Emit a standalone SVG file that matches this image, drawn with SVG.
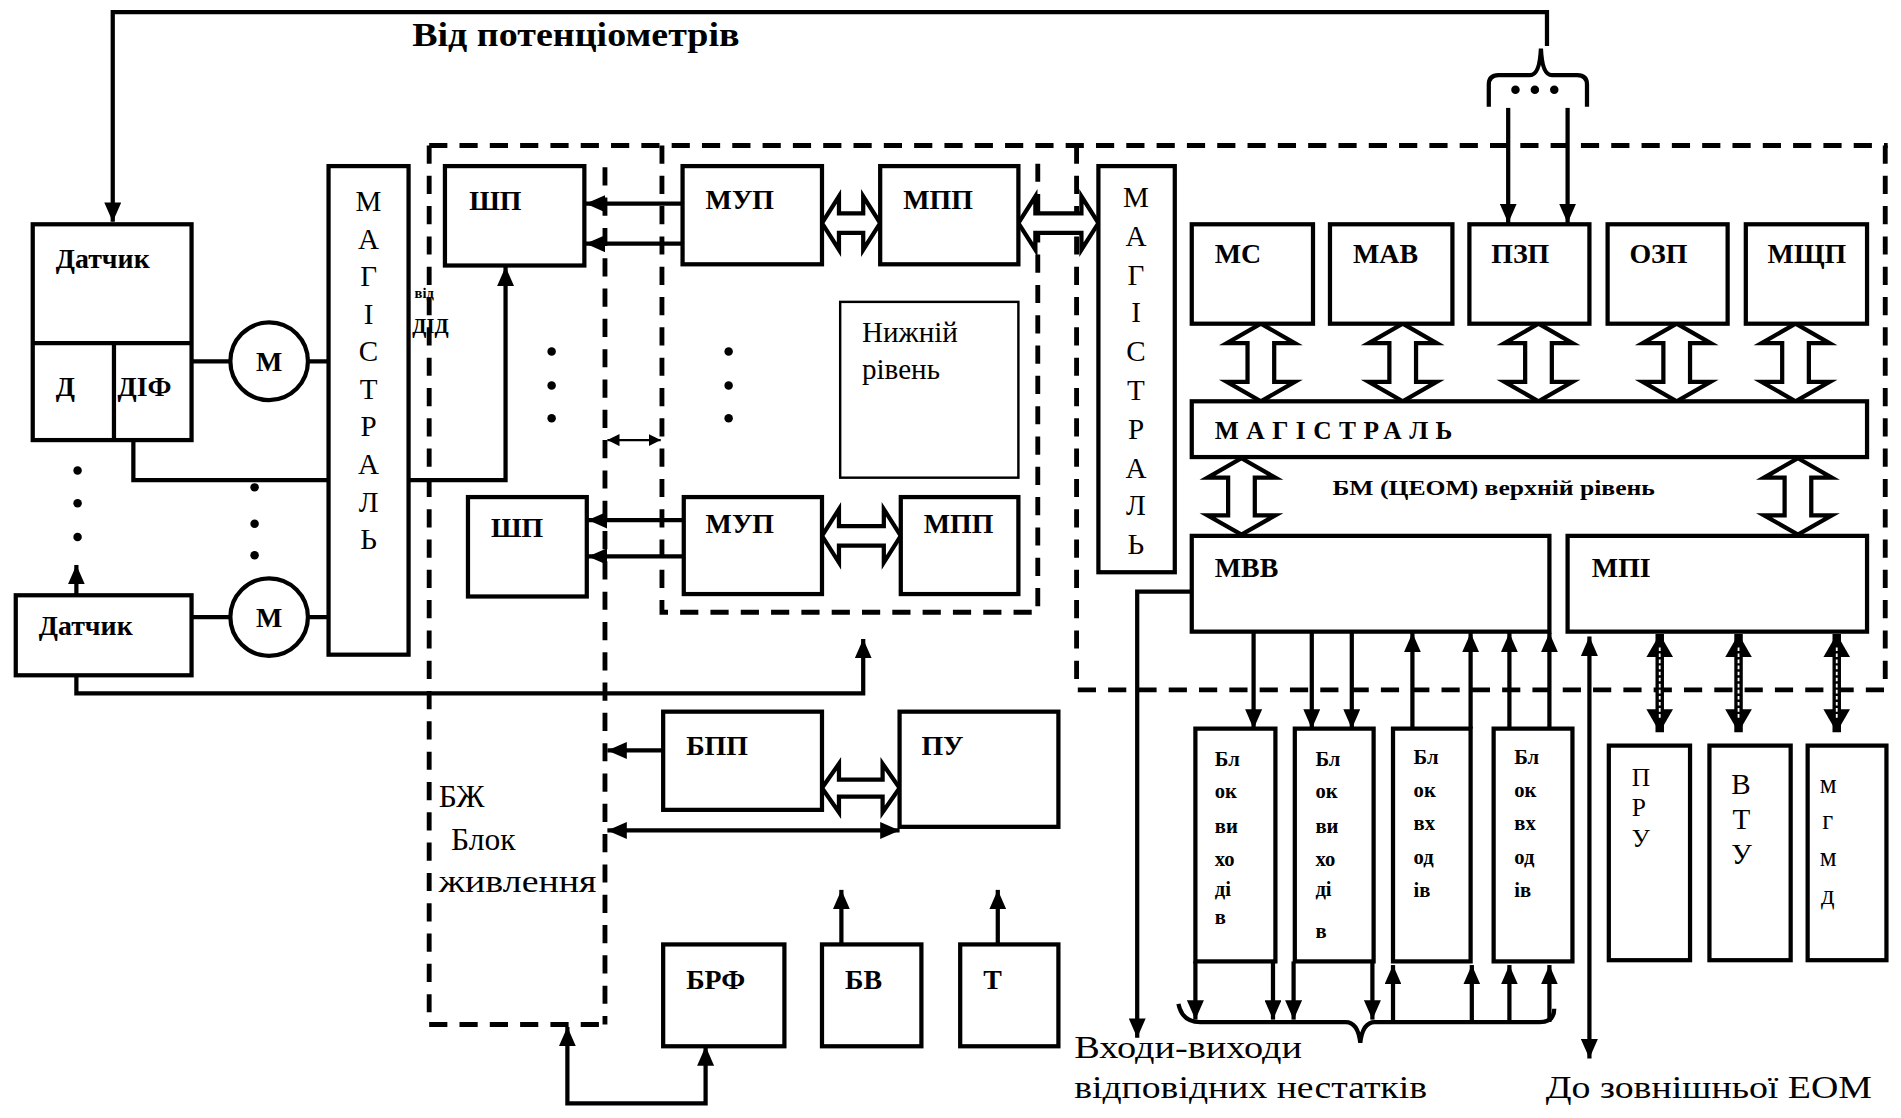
<svg xmlns="http://www.w3.org/2000/svg" width="1901" height="1118" viewBox="0 0 1901 1118">
<style>
.bx{fill:#fff;stroke:#000;stroke-width:3.5}
.thin{fill:#fff;stroke:#000;stroke-width:2}
.ln{fill:none;stroke:#000;stroke-width:3.5}
.ds{fill:none;stroke:#000;stroke-width:4;stroke-dasharray:15 10}
.ha{fill:#fff;stroke:#000;stroke-width:3.5;stroke-linejoin:miter}
.dw{fill:none;stroke:#000;stroke-width:7}
.dwi{fill:none;stroke:#fff;stroke-width:1.5;stroke-dasharray:3 2}
.t{font-family:"Liberation Serif","Times New Roman",serif;fill:#000}
.b{font-weight:bold}
.lab{font-size:23px;font-weight:bold}
.vl{font-size:24px;text-anchor:middle}
.blk{font-size:17px;font-weight:bold}
.big{font-size:26px}
</style>
<defs>
<marker id="ah" viewBox="0 0 16 14" refX="16" refY="7" markerWidth="16" markerHeight="14" markerUnits="userSpaceOnUse" orient="auto-start-reverse"><path d="M0,0 L16,7 L0,14 z" fill="#000"/></marker>
<marker id="as" viewBox="0 0 10 10" refX="10" refY="5" markerWidth="10" markerHeight="10" markerUnits="userSpaceOnUse" orient="auto-start-reverse"><path d="M0,0 L10,5 L0,10 z" fill="#000"/></marker>
<marker id="aw" viewBox="0 0 19 22" refX="19" refY="11" markerWidth="19" markerHeight="22" markerUnits="userSpaceOnUse" orient="auto-start-reverse"><path d="M0,0 L19,11 L0,22 z" fill="#000"/></marker>
</defs>
<rect width="1901" height="1118" fill="#fff"/>
<g transform="scale(1.21237)">
<g id="regions">
<path class="ds" d="M354,120 L1557,120"/>
<path class="ds" d="M354,120 L354,845 L499,845"/>
<path class="ds" d="M499,138 L499,845"/>
<path class="ds" d="M546,120 L546,505 L856,505 L856,130"/>
<path class="ds" d="M888,120 L888,569 L1555,569 L1555,120"/>
</g>
<g id="connectors">
<path class="ln" d="M1276,38 L1276,10 L93,10 L93,183" marker-end="url(#ah)"/>
<path class="ln" d="M1228,88 L1228,70 Q1228,62 1236,62 L1262,62 Q1270,62 1271,40 Q1272,62 1280,62 L1301,62 Q1309,62 1309,70 L1309,88"/>
<circle cx="1250" cy="74" r="3.5"/><circle cx="1266" cy="74" r="3.5"/><circle cx="1282" cy="74" r="3.5"/>
<path class="ln" d="M1244,89 L1244,184" marker-end="url(#ah)"/>
<path class="ln" d="M1293,89 L1293,184" marker-end="url(#ah)"/>
<path class="ln" d="M158,298 L190,298 M254,298 L271,298"/>
<path class="ln" d="M158,509 L190,509 M254,509 L271,509"/>
<path class="ln" d="M110,363 L110,396 L417,396 L417,220" marker-end="url(#ah)"/>
<path class="ln" d="M63,557 L63,572 L712,572 L712,527" marker-end="url(#ah)"/>
<path class="ln" d="M63,491 L63,466" marker-end="url(#ah)"/>
<path class="ln" d="M563,168 L483,168" marker-end="url(#ah)"/>
<path class="ln" d="M563,201 L483,201" marker-end="url(#ah)"/>
<path class="ln" d="M564,429 L485,429" marker-end="url(#ah)"/>
<path class="ln" d="M564,459 L485,459" marker-end="url(#ah)"/>
<path fill="none" stroke="#000" stroke-width="2" d="M501,363 L545,363" marker-start="url(#as)" marker-end="url(#as)"/>
<path class="ln" d="M547,619 L501,619" marker-end="url(#ah)"/>
<path class="ln" d="M501,685 L742,685" marker-start="url(#ah)" marker-end="url(#ah)"/>
<path class="ln" d="M694,779 L694,734" marker-end="url(#ah)"/>
<path class="ln" d="M823,779 L823,734" marker-end="url(#ah)"/>
<path class="ln" d="M582,863 L582,910 L468,910 L468,847" marker-start="url(#ah)" marker-end="url(#ah)"/>
<path class="ln" d="M983,488 L938,488 L938,856" marker-end="url(#ah)"/>
<path class="ln" d="M1034,521 L1034,601" marker-end="url(#ah)"/>
<path class="ln" d="M1082,521 L1082,601" marker-end="url(#ah)"/>
<path class="ln" d="M1115,521 L1115,601" marker-end="url(#ah)"/>
<path class="ln" d="M1165,601 L1165,522" marker-end="url(#ah)"/>
<path class="ln" d="M1213,601 L1213,522" marker-end="url(#ah)"/>
<path class="ln" d="M1245,601 L1245,522" marker-end="url(#ah)"/>
<path class="ln" d="M1278,601 L1278,522" marker-end="url(#ah)"/>
<path class="ln" d="M986,793 L986,841" marker-end="url(#ah)"/>
<path class="ln" d="M1050,793 L1050,841" marker-end="url(#ah)"/>
<path class="ln" d="M1067,793 L1067,841" marker-end="url(#ah)"/>
<path class="ln" d="M1132,793 L1132,841" marker-end="url(#ah)"/>
<path class="ln" d="M1149,843 L1149,796" marker-end="url(#ah)"/>
<path class="ln" d="M1214,843 L1214,796" marker-end="url(#ah)"/>
<path class="ln" d="M1245,843 L1245,796" marker-end="url(#ah)"/>
<path class="ln" d="M1278,843 L1278,796" marker-end="url(#ah)"/>
<path class="ln" d="M972,828 Q975,843 990,843 L1110,843 Q1120,843 1122,860 Q1124,843 1134,843 L1270,843 Q1282,843 1282,832"/>
<path class="ln" d="M1311,525 L1311,873" marker-start="url(#ah)" marker-end="url(#ah)"/>
<path class="dw" d="M1369,523 L1369,604" marker-start="url(#aw)" marker-end="url(#aw)"/>
<path class="dw" d="M1434,523 L1434,604" marker-start="url(#aw)" marker-end="url(#aw)"/>
<path class="dw" d="M1515,523 L1515,604" marker-start="url(#aw)" marker-end="url(#aw)"/>
<path class="dwi" d="M1369,534 L1369,593 M1434,534 L1434,593 M1515,534 L1515,593"/>
<polygon class="ha" points="678,184 692,162 692,176 712,176 712,162 726,184 712,206 712,192 692,192 692,206"/>
<polygon class="ha" points="840,184 854,162 854,176 892,176 892,162 906,184 892,206 892,192 854,192 854,206"/>
<polygon class="ha" points="678,442 692,420 692,434 729,434 729,420 743,442 729,464 729,450 692,450 692,464"/>
<polygon class="ha" points="678,650 692,630 692,643 728,643 728,630 742,650 728,670 728,657 692,657 692,670"/>
<polygon class="ha" points="1040,267 1068,283 1051,283 1051,315 1068,315 1040,331 1012,315 1029,315 1029,283 1012,283"/>
<polygon class="ha" points="1157,267 1185,283 1168,283 1168,315 1185,315 1157,331 1129,315 1146,315 1146,283 1129,283"/>
<polygon class="ha" points="1269,267 1297,283 1280,283 1280,315 1297,315 1269,331 1241,315 1258,315 1258,283 1241,283"/>
<polygon class="ha" points="1383,267 1411,283 1394,283 1394,315 1411,315 1383,331 1355,315 1372,315 1372,283 1355,283"/>
<polygon class="ha" points="1481,267 1509,283 1492,283 1492,315 1509,315 1481,331 1453,315 1470,315 1470,283 1453,283"/>
<polygon class="ha" points="1024,378 1052,394 1035,394 1035,425 1052,425 1024,441 996,425 1013,425 1013,394 996,394"/>
<polygon class="ha" points="1483,378 1511,394 1494,394 1494,425 1511,425 1483,441 1455,425 1472,425 1472,394 1455,394"/>
</g>
<g id="dots">
<circle cx="455" cy="290" r="3.5"/><circle cx="455" cy="318" r="3.5"/><circle cx="455" cy="345" r="3.5"/>
<circle cx="601" cy="290" r="3.5"/><circle cx="601" cy="318" r="3.5"/><circle cx="601" cy="345" r="3.5"/>
<circle cx="64" cy="388" r="3.5"/><circle cx="64" cy="415" r="3.5"/><circle cx="64" cy="443" r="3.5"/>
<circle cx="210" cy="402" r="3.5"/><circle cx="210" cy="432" r="3.5"/><circle cx="210" cy="458" r="3.5"/>
</g>
<g id="datchik1">
<rect class="bx" x="27" y="185" width="131" height="178"/>
<path class="ln" d="M27,283 L158,283 M94,283 L94,363"/>
<text class="t lab" x="46" y="221" font-size="22">Датчик</text>
<text class="t lab" x="46" y="327" font-size="21">Д</text>
<text class="t lab" x="97" y="327" font-size="21">ДІФ</text>
</g>
<g id="motor1"><circle class="bx" cx="222" cy="298" r="32"/><text class="t lab" x="222" y="306" text-anchor="middle" font-size="21">М</text></g>
<g id="datchik2">
<rect class="bx" x="13" y="491" width="145" height="66"/>
<text class="t lab" x="32" y="524" font-size="19">Датчик</text>
</g>
<g id="motor2"><circle class="bx" cx="222" cy="509" r="32"/><text class="t lab" x="222" y="517" text-anchor="middle" font-size="21">М</text></g>
<g id="magistral1">
<rect class="bx" x="271" y="137" width="66" height="403"/>
<text class="t vl"><tspan x="304" y="174">М</tspan><tspan x="304" y="205">А</tspan><tspan x="304" y="236">Г</tspan><tspan x="304" y="267">І</tspan><tspan x="304" y="298">С</tspan><tspan x="304" y="329">Т</tspan><tspan x="304" y="360">Р</tspan><tspan x="304" y="391">А</tspan><tspan x="304" y="422">Л</tspan><tspan x="304" y="453">Ь</tspan></text>
</g>
<g id="vid-did">
<text class="t b" x="342" y="246" font-size="12">від</text>
<text class="t b" x="340" y="275" font-size="17">ДІД</text>
</g>
<g id="shp1"><rect class="bx" x="367" y="137" width="115" height="82"/><text class="t lab" x="387" y="173">ШП</text></g>
<g id="shp2"><rect class="bx" x="386" y="410" width="98" height="82"/><text class="t lab" x="405" y="443">ШП</text></g>
<g id="mup1"><rect class="bx" x="563" y="137" width="115" height="81"/><text class="t lab" x="582" y="172">МУП</text></g>
<g id="mpp1"><rect class="bx" x="726" y="137" width="114" height="81"/><text class="t lab" x="745" y="172">МПП</text></g>
<g id="nizhnij"><rect class="thin" x="693" y="249" width="147" height="145"/><text class="t" font-size="24" x="711" y="282">Нижній</text><text class="t" font-size="24" x="711" y="313">рівень</text></g>
<g id="mup2"><rect class="bx" x="564" y="410" width="114" height="80"/><text class="t lab" x="582" y="440">МУП</text></g>
<g id="mpp2"><rect class="bx" x="743" y="410" width="97" height="80"/><text class="t lab" x="762" y="440">МПП</text></g>
<g id="magistral2">
<rect class="bx" x="906" y="137" width="63" height="335"/>
<text class="t vl"><tspan x="937" y="171">М</tspan><tspan x="937" y="203">А</tspan><tspan x="937" y="235">Г</tspan><tspan x="937" y="266">І</tspan><tspan x="937" y="298">С</tspan><tspan x="937" y="330">Т</tspan><tspan x="937" y="362">Р</tspan><tspan x="937" y="394">А</tspan><tspan x="937" y="425">Л</tspan><tspan x="937" y="457">Ь</tspan></text>
</g>
<g id="ms"><rect class="bx" x="983" y="185" width="100" height="82"/><text class="t lab" font-size="20" x="1002" y="217">МС</text></g>
<g id="mav"><rect class="bx" x="1097" y="185" width="101" height="82"/><text class="t lab" font-size="20" x="1116" y="217">МАВ</text></g>
<g id="pzp"><rect class="bx" x="1212" y="185" width="99" height="82"/><text class="t lab" font-size="20" x="1230" y="217">ПЗП</text></g>
<g id="ozp"><rect class="bx" x="1326" y="185" width="99" height="82"/><text class="t lab" font-size="20" x="1344" y="217">ОЗП</text></g>
<g id="mshchp"><rect class="bx" x="1440" y="185" width="100" height="82"/><text class="t lab" font-size="20" x="1458" y="217">МЩП</text></g>
<g id="magistral-bar"><rect class="bx" x="983" y="331" width="557" height="46"/><text class="t b" font-size="21" x="1002" y="362" textLength="196" lengthAdjust="spacing">МАГІСТРАЛЬ</text></g>
<g id="bm-label"><text class="t b" font-size="17" x="1099" y="408" textLength="266" lengthAdjust="spacingAndGlyphs">БМ (ЦЕОМ) верхній рівень</text></g>
<g id="mvv"><rect class="bx" x="983" y="442" width="295" height="79"/><text class="t lab" font-size="20" x="1002" y="476">МВВ</text></g>
<g id="mpi"><rect class="bx" x="1293" y="442" width="247" height="79"/><text class="t lab" font-size="20" x="1313" y="476">МПІ</text></g>
<g id="blok1"><rect class="bx" x="986" y="601" width="66" height="192"/><text class="t blk"><tspan x="1002" y="632">Бл</tspan><tspan x="1002" y="658">ок</tspan><tspan x="1002" y="687">ви</tspan><tspan x="1002" y="714">хо</tspan><tspan x="1002" y="739">ді</tspan><tspan x="1002" y="762">в</tspan></text></g>
<g id="blok2"><rect class="bx" x="1068" y="601" width="65" height="192"/><text class="t blk"><tspan x="1085" y="632">Бл</tspan><tspan x="1085" y="658">ок</tspan><tspan x="1085" y="687">ви</tspan><tspan x="1085" y="714">хо</tspan><tspan x="1085" y="739">ді</tspan><tspan x="1085" y="774">в</tspan></text></g>
<g id="blok3"><rect class="bx" x="1149" y="601" width="64" height="192"/><text class="t blk"><tspan x="1166" y="630">Бл</tspan><tspan x="1166" y="657">ок</tspan><tspan x="1166" y="685">вх</tspan><tspan x="1166" y="713">од</tspan><tspan x="1166" y="740">ів</tspan></text></g>
<g id="blok4"><rect class="bx" x="1232" y="601" width="65" height="192"/><text class="t blk"><tspan x="1249" y="630">Бл</tspan><tspan x="1249" y="657">ок</tspan><tspan x="1249" y="685">вх</tspan><tspan x="1249" y="713">од</tspan><tspan x="1249" y="740">ів</tspan></text></g>
<g id="pru"><rect class="bx" x="1327" y="615" width="67" height="177"/><text class="t" font-size="21"><tspan x="1346" y="648">П</tspan><tspan x="1346" y="673">Р</tspan><tspan x="1346" y="699">У</tspan></text></g>
<g id="vtu"><rect class="bx" x="1410" y="615" width="67" height="177"/><text class="t" font-size="24"><tspan x="1428" y="655">В</tspan><tspan x="1429" y="684">Т</tspan><tspan x="1428" y="713">У</tspan></text></g>
<g id="mgmd"><rect class="bx" x="1491" y="615" width="65" height="177"/><text class="t" font-size="22"><tspan x="1501" y="654">м</tspan><tspan x="1503" y="684">г</tspan><tspan x="1501" y="714">м</tspan><tspan x="1502" y="746">д</tspan></text></g>
<g id="bpp"><rect class="bx" x="547" y="587" width="131" height="81"/><text class="t lab" x="566" y="623">БПП</text></g>
<g id="pu"><rect class="bx" x="742" y="587" width="131" height="95"/><text class="t lab" x="760" y="623">ПУ</text></g>
<g id="brf"><rect class="bx" x="547" y="779" width="100" height="84"/><text class="t lab" x="566" y="816">БРФ</text></g>
<g id="bv"><rect class="bx" x="678" y="779" width="82" height="84"/><text class="t lab" x="697" y="816">БВ</text></g>
<g id="t"><rect class="bx" x="792" y="779" width="81" height="84"/><text class="t lab" x="811" y="816">Т</text></g>
<g id="bzh"><text class="t big"><tspan x="362" y="666">БЖ</tspan><tspan x="372" y="701">Блок</tspan><tspan x="362" y="736" textLength="130" lengthAdjust="spacingAndGlyphs">живлення</tspan></text></g>
<g id="labels">
<text class="t b" font-size="27" x="340" y="38" textLength="270" lengthAdjust="spacingAndGlyphs">Від потенціометрів</text>
<text class="t big" x="886" y="873" textLength="188" lengthAdjust="spacingAndGlyphs">Входи-виходи</text>
<text class="t big" x="886" y="906" textLength="291" lengthAdjust="spacingAndGlyphs">відповідних нестатків</text>
<text class="t big" x="1275" y="906" textLength="269" lengthAdjust="spacingAndGlyphs">До зовнішньої ЕОМ</text>
</g>
</g>
</svg>
